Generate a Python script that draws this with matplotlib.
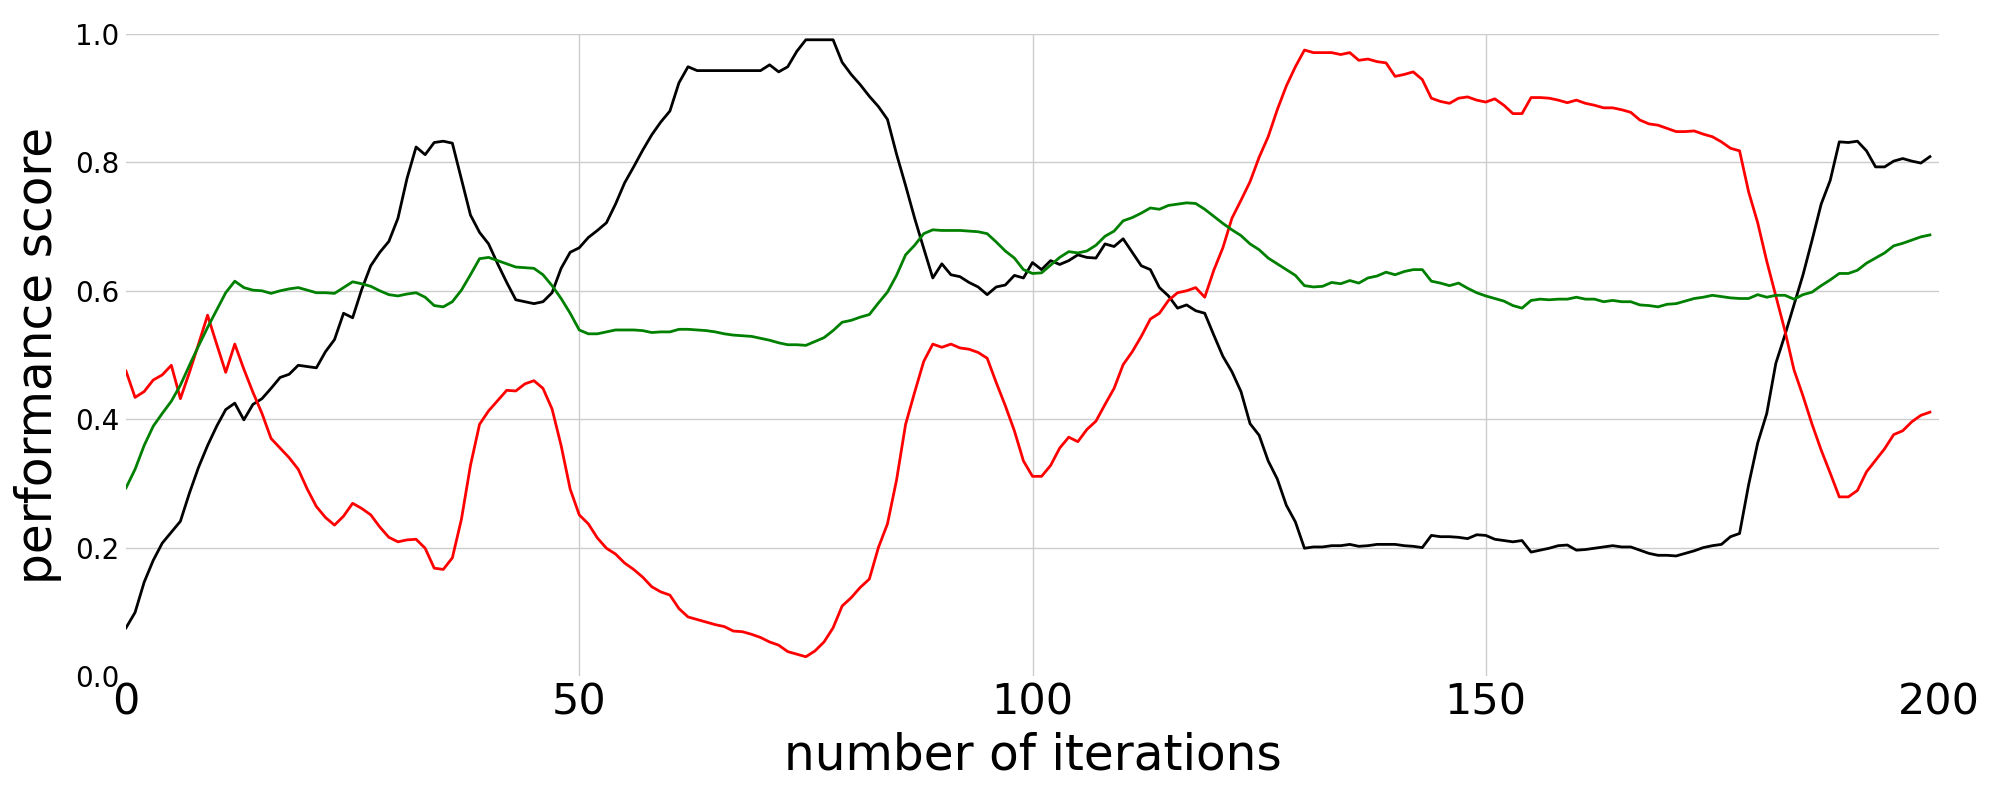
import matplotlib
matplotlib.use("Agg")
import matplotlib.pyplot as plt
import numpy as np

iterations = list(range(200))

black_scores = (
    [0.075, 0.099, 0.146, 0.180, 0.207, 0.224, 0.241, 0.285, 0.325, 0.359, 0.389, 0.415, 0.425, 0.399, 0.423, 0.432, 0.448, 0.465, 0.470, 0.484, 0.482, 0.480, 0.505]
    + [0.524, 0.565, 0.558, 0.602, 0.639, 0.660, 0.677, 0.713, 0.775, 0.824, 0.812, 0.831, 0.833, 0.830, 0.774, 0.718, 0.691, 0.673, 0.642, 0.613, 0.586, 0.583, 0.580, 0.583, 0.597, 0.635]
    + [0.660, 0.667, 0.683, 0.694, 0.706, 0.735, 0.768, 0.793, 0.819, 0.843, 0.863, 0.880, 0.924, 0.949, 0.943, 0.943, 0.943, 0.943, 0.943, 0.943, 0.943, 0.943, 0.952, 0.941, 0.949]
    + [0.973, 0.991, 0.991, 0.991, 0.991, 0.956, 0.937, 0.921, 0.903, 0.887, 0.867, 0.813, 0.764, 0.713, 0.666, 0.620, 0.642, 0.625, 0.622, 0.613, 0.606, 0.594, 0.606, 0.609, 0.624]
    + [0.620, 0.644, 0.633, 0.647, 0.641, 0.647, 0.656, 0.652, 0.651, 0.673, 0.669, 0.681, 0.660, 0.639, 0.633, 0.605, 0.592, 0.573, 0.578, 0.569, 0.565, 0.531, 0.498, 0.474, 0.443, 0.393]
    + [0.375, 0.335, 0.307, 0.266, 0.240, 0.199, 0.201, 0.201, 0.203, 0.203, 0.205, 0.202, 0.203, 0.205, 0.205, 0.205, 0.203, 0.202, 0.200, 0.219, 0.217, 0.217, 0.216, 0.214, 0.220]
    + [0.219, 0.213, 0.211, 0.209, 0.211, 0.193, 0.196, 0.199, 0.203, 0.204, 0.196, 0.197, 0.199, 0.201, 0.203, 0.201, 0.201, 0.196, 0.191, 0.188, 0.188, 0.187, 0.191, 0.195, 0.200]
    + [0.203, 0.205, 0.217, 0.222, 0.298, 0.363, 0.409, 0.487, 0.531, 0.578, 0.625, 0.679, 0.735, 0.772, 0.832, 0.831, 0.833, 0.818, 0.793, 0.793, 0.802, 0.806, 0.802, 0.799, 0.809]
)

red_scores = (
    [0.475, 0.434, 0.443, 0.461, 0.469, 0.484, 0.432, 0.473, 0.517, 0.562, 0.517, 0.473, 0.517, 0.478, 0.442, 0.409, 0.370, 0.355, 0.340, 0.322, 0.291, 0.264, 0.247]
    + [0.235, 0.249, 0.269, 0.261, 0.251, 0.232, 0.216, 0.209, 0.212, 0.213, 0.199, 0.168, 0.166, 0.184, 0.244, 0.328, 0.392, 0.413, 0.429, 0.445, 0.444, 0.455, 0.460, 0.448, 0.416, 0.359]
    + [0.291, 0.251, 0.237, 0.215, 0.199, 0.190, 0.176, 0.166, 0.154, 0.139, 0.131, 0.126, 0.105, 0.092, 0.088, 0.084, 0.080, 0.077, 0.070, 0.069, 0.065, 0.060, 0.053, 0.048, 0.038]
    + [0.034, 0.030, 0.039, 0.053, 0.075, 0.109, 0.122, 0.138, 0.151, 0.200, 0.237, 0.305, 0.392, 0.442, 0.490, 0.517, 0.512, 0.517, 0.511, 0.509, 0.504, 0.495, 0.457, 0.421, 0.382]
    + [0.335, 0.311, 0.311, 0.328, 0.355, 0.372, 0.365, 0.384, 0.397, 0.423, 0.448, 0.485, 0.505, 0.529, 0.556, 0.565, 0.585, 0.597, 0.600, 0.605, 0.590, 0.632, 0.667, 0.713, 0.741, 0.770]
    + [0.808, 0.840, 0.882, 0.919, 0.949, 0.975, 0.971, 0.971, 0.971, 0.968, 0.971, 0.959, 0.961, 0.957, 0.955, 0.934, 0.937, 0.941, 0.929, 0.900, 0.895, 0.892, 0.900, 0.902, 0.897]
    + [0.894, 0.899, 0.889, 0.876, 0.876, 0.901, 0.901, 0.900, 0.897, 0.893, 0.897, 0.892, 0.889, 0.885, 0.885, 0.882, 0.878, 0.866, 0.860, 0.858, 0.853, 0.848, 0.848, 0.849, 0.844]
    + [0.840, 0.832, 0.822, 0.818, 0.754, 0.706, 0.646, 0.592, 0.538, 0.477, 0.436, 0.392, 0.352, 0.316, 0.279, 0.279, 0.289, 0.318, 0.336, 0.354, 0.376, 0.382, 0.396, 0.406, 0.411]
)

green_scores = (
    [0.293, 0.322, 0.359, 0.389, 0.409, 0.428, 0.453, 0.484, 0.514, 0.543, 0.570, 0.597, 0.615, 0.605, 0.601, 0.600, 0.596, 0.600, 0.603, 0.605, 0.601, 0.597, 0.597]
    + [0.596, 0.605, 0.614, 0.611, 0.607, 0.600, 0.594, 0.592, 0.595, 0.597, 0.590, 0.577, 0.575, 0.583, 0.601, 0.625, 0.650, 0.652, 0.647, 0.642, 0.637, 0.636, 0.635, 0.625, 0.608, 0.588]
    + [0.565, 0.539, 0.533, 0.533, 0.536, 0.539, 0.539, 0.539, 0.538, 0.535, 0.536, 0.536, 0.540, 0.540, 0.539, 0.538, 0.536, 0.533, 0.531, 0.530, 0.529, 0.526, 0.523, 0.519, 0.516]
    + [0.516, 0.515, 0.521, 0.527, 0.538, 0.551, 0.554, 0.559, 0.563, 0.581, 0.598, 0.624, 0.656, 0.671, 0.689, 0.695, 0.694, 0.694, 0.694, 0.693, 0.692, 0.689, 0.676, 0.662, 0.651]
    + [0.633, 0.627, 0.628, 0.640, 0.652, 0.661, 0.659, 0.662, 0.671, 0.685, 0.693, 0.709, 0.714, 0.721, 0.729, 0.727, 0.733, 0.735, 0.737, 0.736, 0.727, 0.716, 0.705, 0.695, 0.686, 0.673]
    + [0.664, 0.651, 0.642, 0.633, 0.624, 0.608, 0.606, 0.607, 0.613, 0.611, 0.616, 0.612, 0.620, 0.623, 0.629, 0.625, 0.630, 0.633, 0.633, 0.615, 0.612, 0.608, 0.612, 0.604, 0.597]
    + [0.592, 0.588, 0.584, 0.577, 0.573, 0.585, 0.587, 0.586, 0.587, 0.587, 0.590, 0.587, 0.587, 0.583, 0.585, 0.583, 0.583, 0.578, 0.577, 0.575, 0.579, 0.580, 0.584, 0.588, 0.590]
    + [0.593, 0.591, 0.589, 0.588, 0.588, 0.594, 0.590, 0.593, 0.593, 0.587, 0.594, 0.598, 0.608, 0.617, 0.627, 0.627, 0.632, 0.643, 0.651, 0.659, 0.670, 0.674, 0.679, 0.684, 0.687]
)

assert len(black_scores) == 200, len(black_scores)
assert len(red_scores) == 200, len(red_scores)
assert len(green_scores) == 200, len(green_scores)

x_ticks = [0, 50, 100, 150, 200]
y_ticks = [0.0, 0.2, 0.4, 0.6, 0.8, 1.0]

plt.rcParams['font.family'] = ['DejaVu Sans']

fig = plt.figure(figsize=(20, 8), dpi=100)
ax = fig.add_axes([0.063, 0.155, 0.9065, 0.8025])

ax.plot(iterations, black_scores, color='black', lw=2)
ax.plot(iterations, red_scores, color='red', lw=2)
ax.plot(iterations, green_scores, color='green', lw=2)

ax.set_xlim(0, 200)
ax.set_ylim(0, 1.0)
ax.set_xticks(x_ticks)
ax.set_yticks(y_ticks)
ax.set_xticklabels([str(t) for t in x_ticks], fontsize=31)
ax.set_yticklabels([f"{t:.1f}" for t in y_ticks], fontsize=20)
ax.tick_params(axis='both', length=0)
ax.tick_params(axis='y', pad=5)
ax.tick_params(axis='x', pad=4)

for s in ax.spines.values():
    s.set_visible(False)

ax.set_axisbelow(True)
ax.grid(True, color='#cccccc', lw=1)
# hide gridlines at the axes edges as in the reference
xg = ax.xaxis.get_gridlines()
xg[0].set_visible(False)
xg[-1].set_visible(False)
yg = ax.yaxis.get_gridlines()
yg[0].set_visible(False)

ax.set_xlabel('number of iterations', fontsize=35, labelpad=6)
ax.set_ylabel('performance score', fontsize=35, labelpad=9)

fig.savefig('out.png', dpi=100)
